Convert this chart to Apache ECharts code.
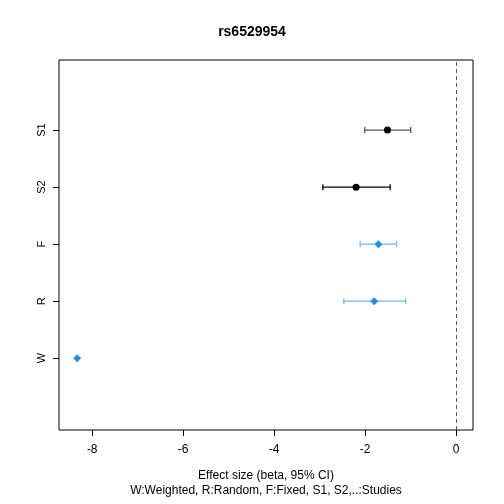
<!DOCTYPE html><html><head><meta charset="utf-8"><script src="https://cdn.jsdelivr.net/npm/echarts@6/dist/echarts.min.js"></script></head><body style="margin:0"><div id="c" style="width:504px;height:504px"></div><script>
const labels=['W','R','F','S2','S1'];
const est=[-8.33,-1.80,-1.71,-2.20,-1.51];
const lo=[null,-2.47,-2.11,-2.93,-2.01];
const hi=[null,-1.11,-1.31,-1.45,-1.00];
const colors=['#1E90E8','#1E90E8','#1E90E8','#000000','#000000'];
const barColors=['#1E90E8','#6BB8F0','#6BB8F0','#000000','#555555'];
const xTicks=[-8,-6,-4,-2,0];
const ebData=[],pts=[];
for(let i=0;i<labels.length;i++){
 if(lo[i]!=null) ebData.push({value:[lo[i],hi[i],i+1],itemStyle:{color:barColors[i]}});
 pts.push({value:[est[i],i+1],symbol:i<3?'diamond':'circle',symbolSize:i<3?8:7,itemStyle:{color:colors[i],opacity:1}});
}
const font='Liberation Sans, Arial, sans-serif';
const ch=echarts.init(document.getElementById('c'));
ch.setOption({
 animation:false,
 title:{text:'rs6529954',left:'center',top:20,textStyle:{fontFamily:font,fontSize:14,fontWeight:'bold',color:'#000'}},
 grid:{left:59,right:31,top:60,bottom:74,show:true,borderColor:'#000',borderWidth:1},
 xAxis:{type:'value',position:'bottom',min:-8.73,max:0.37,splitLine:{show:false},axisLine:{show:false,onZero:false},
  axisTick:{customValues:xTicks,length:6,lineStyle:{color:'#000'}},
  axisLabel:{customValues:xTicks,fontFamily:font,fontSize:12,color:'#000',margin:14},
  name:'Effect size (beta, 95% CI)\nW:Weighted, R:Random, F:Fixed, S1, S2,..:Studies',nameLocation:'middle',nameGap:38,
  nameTextStyle:{fontFamily:font,fontSize:12,color:'#000',lineHeight:15}},
 yAxis:{type:'value',position:'left',min:-0.26,max:6.23,splitLine:{show:false},axisLine:{show:false,onZero:false},
  axisTick:{customValues:[1,2,3,4,5],length:6,lineStyle:{color:'#000'}},
  axisLabel:{customValues:[1,2,3,4,5],formatter:v=>labels[Math.round(v)-1]||'',rotate:90,fontFamily:font,fontSize:11,color:'#000',margin:12}},
 series:[
  {type:'custom',data:ebData,renderItem:(p,api)=>{
    const a=api.coord([api.value(0),api.value(2)]),b=api.coord([api.value(1),api.value(2)]);
    const st={stroke:api.visual('color'),lineWidth:1.3};
    return {type:'group',children:[
     {type:'line',shape:{x1:a[0],y1:a[1],x2:b[0],y2:b[1]},style:st},
     {type:'line',shape:{x1:a[0],y1:a[1]-3,x2:a[0],y2:a[1]+3},style:st},
     {type:'line',shape:{x1:b[0],y1:b[1]-3,x2:b[0],y2:b[1]+3},style:st}]};
  },z:2},
  {type:'scatter',data:pts,z:3,
   markLine:{silent:true,symbol:'none',label:{show:false},lineStyle:{type:[4,3],color:'#555',width:1},data:[{xAxis:0}]}}
 ]
});
</script></body></html>
